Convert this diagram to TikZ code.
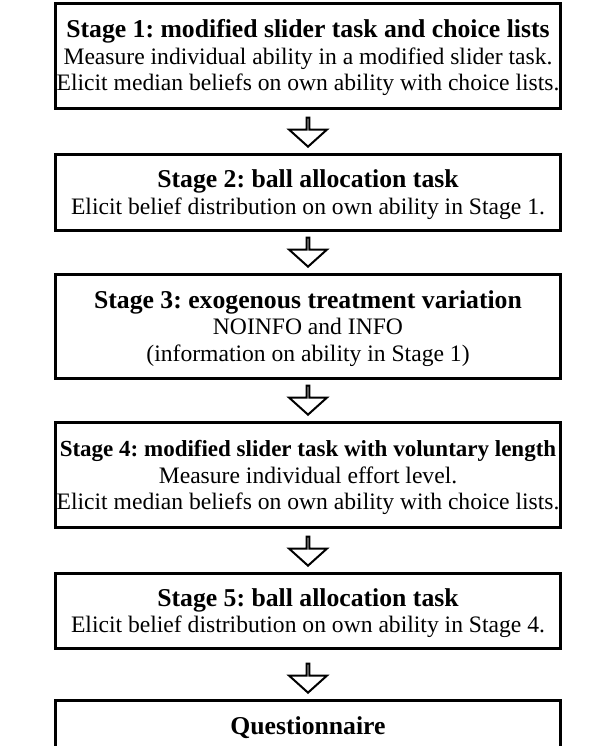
\documentclass[tikz,border=0pt]{standalone}
\usepackage{fontspec}
\setmainfont{Liberation Serif}
\usetikzlibrary{shapes.arrows}
\frenchspacing

\newcommand{\stagehead}[2][25.7bp]{{\fontsize{#1}{26.5bp}\selectfont\bfseries\rule{0pt}{22bp}#2}}
\tikzset{
  stagebox/.style={draw,line width=3bp,minimum width=504bp,anchor=north,align=center,
    inner sep=0pt,font=\fontsize{23.6bp}{26.5bp}\selectfont},
  downarrow/.style={single arrow,draw,line width=2bp,shape border rotate=270,inner sep=0pt,
    minimum height=29bp,minimum width=38bp,single arrow head extend=13bp,
    single arrow tip angle=96,anchor=tip}
}

\begin{document}
\begin{tikzpicture}[x=1bp,y=-1bp]
\clip (0,0) rectangle (595,746);

 \node[stagebox,minimum height=105bp] (s1) at (308,2)
   {\stagehead{Stage 1: modified slider task and choice lists}\\
    Measure individual ability in a modified slider task.\\
    Elicit median beliefs on own ability with choice lists.};
 \node[stagebox,minimum height=76bp] (s2) at (308,153)
   {\stagehead{Stage 2: ball allocation task}\\
    Elicit belief distribution on own ability in Stage 1.};
 \node[stagebox,minimum height=104bp] (s3) at (308,273)
   {\stagehead{Stage 3: exogenous treatment variation}\\
    NOINFO and INFO\\
    (information on ability in Stage 1)};
 \node[stagebox,minimum height=105bp] (s4) at (308,421)
   {\stagehead[23bp]{Stage 4: modified slider task with voluntary length}\\
    Measure individual effort level.\\
    Elicit median beliefs on own ability with choice lists.};
 \node[stagebox,minimum height=75bp] (s5) at (308,572)
   {\stagehead{Stage 5: ball allocation task}\\
    Elicit belief distribution on own ability in Stage 4.};
 \node[stagebox,minimum height=50bp] (s6) at (308,699)
   {\stagehead{Questionnaire}};

 \foreach \b in {2,...,6}
   \node[downarrow] (a\b) at ([yshift=5bp]s\b.north) {};

\end{tikzpicture}
\end{document}
